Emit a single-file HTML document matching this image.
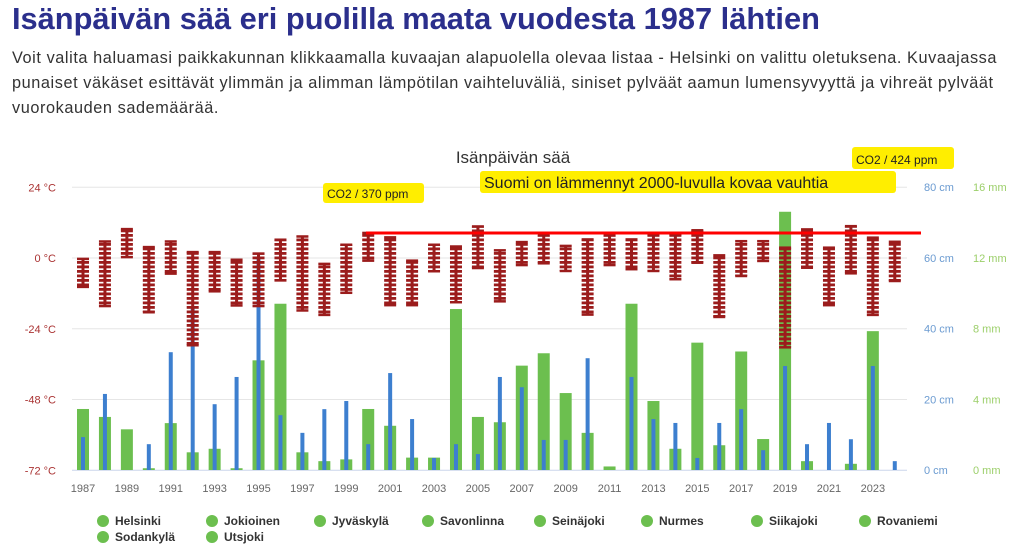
<!DOCTYPE html>
<html><head><meta charset="utf-8">
<style>
body{margin:0;width:1024px;height:554px;overflow:hidden;background:#fff;font-family:"Liberation Sans",sans-serif;}
#title{position:absolute;left:12px;top:1px;margin:0;font-size:30.8px;font-weight:bold;color:#2b2f8c;white-space:nowrap;}
#intro{position:absolute;left:12px;top:46px;width:1010px;margin:0;font-size:16.3px;line-height:25px;color:#333;white-space:nowrap;letter-spacing:0.58px;}
svg{position:absolute;left:0;top:0;}
</style></head><body>
<h1 id="title">Isänpäivän sää eri puolilla maata vuodesta 1987 lähtien</h1>
<p id="intro">Voit valita haluamasi paikkakunnan klikkaamalla kuvaajan alapuolella olevaa listaa - Helsinki on valittu oletuksena. Kuvaajassa<br>punaiset väkäset esittävät ylimmän ja alimman lämpötilan vaihteluväliä, siniset pylväät aamun lumensyvyyttä ja vihreät pylväät<br>vuorokauden sademäärää.</p>
<svg id="chart" width="1024" height="554">
<defs><pattern id="stripes" width="12" height="4.5" patternUnits="userSpaceOnUse"><rect width="12" height="2.8" fill="#9b1c1c"/></pattern></defs>
</svg>
<script>
const years=[];for(let y=1987;y<=2024;y++)years.push(y);
const rainMm=[3.45,3.0,2.3,0.1,2.65,1.0,1.2,0.1,6.2,9.4,1.0,0.5,0.6,3.45,2.5,0.7,0.7,9.1,3.0,2.7,5.9,6.6,4.35,2.1,0.2,9.4,3.9,1.2,7.2,1.4,6.7,1.75,14.6,0.5,0,0.35,7.85,0];
const snowCm=[9.3,21.5,0,7.3,33.3,46,18.6,26.3,59.6,15.5,10.5,17.2,19.5,7.3,27.4,14.4,3.4,7.3,4.5,26.3,23.4,8.5,8.5,31.6,0,26.3,14.4,13.3,3.4,13.3,17.2,5.6,29.4,7.3,13.3,8.7,29.4,2.5];
const tMax=[-0.3,5.6,9.8,3.7,5.6,2,2,-0.6,1.5,6.2,7.3,-2,4.5,8.5,7,-0.9,4.5,3.9,10.7,2.6,5.4,7.7,4.1,6.3,7.7,6.3,8,8,9.4,0.9,5.7,5.7,3.5,9.7,3.5,10.8,6.9,5.5];
const tMin=[-9.8,-16.3,0.3,-18.4,-5.3,-29.6,-11.3,-16.1,-16.3,-7.6,-17.8,-19.3,-11.8,-0.9,-16,-16,-4.5,-15,-3.4,-14.7,-2.4,-1.8,-4.4,-19.2,-2.4,-3.8,-4.4,-7.2,-1.6,-20,-6.1,-1,-30.3,-3.3,-16,-5.2,-19.3,-7.8];
const tempTicks=[24,0,-24,-48,-72];
const cmTicks=[80,60,40,20,0];
const mmTicks=[16,12,8,4,0];
const xLabels=[1987,1989,1991,1993,1995,1997,1999,2001,2003,2005,2007,2009,2011,2013,2015,2017,2019,2021,2023];
const stations=["Helsinki","Jokioinen","Jyväskylä","Savonlinna","Seinäjoki","Nurmes","Siikajoki","Rovaniemi","Sodankylä","Utsjoki"];
const refTemp=8.5;

const svg=document.getElementById('chart');const NS='http://www.w3.org/2000/svg';
const X0=72,X1=907,TOP=187,BOT=470;
const xs=y=>83+(y-1987)*21.94;
const yT=t=>258-(t)*(283/96);
const yCm=c=>BOT-c*(283/80);
const yMm=m=>BOT-m*(283/16);
function el(tag,attrs,txt){const e=document.createElementNS(NS,tag);for(const k in attrs)e.setAttribute(k,attrs[k]);if(txt!=null)e.textContent=txt;svg.appendChild(e);return e;}
tempTicks.forEach((t,i)=>{const y=yT(t);
 const g=el('line',{x1:X0,x2:X1,y1:y,y2:y,stroke:i==4?'#ccd6eb':'#e6e6e6','stroke-width':1});
 
 const a=el('text',{x:56,y:y+4,'text-anchor':'end','font-size':11,fill:'#a33'},t+' °C');
 });
cmTicks.forEach(c=>{const b=el('text',{x:924,y:yCm(c)+4,'font-size':11,fill:'#6b9bd1'},c+' cm');
 });
mmTicks.forEach(m=>{const b=el('text',{x:973,y:yMm(m)+4,'font-size':11,fill:'#9ccf6a'},m+' mm');
 });
xLabels.forEach(y=>{const t=el('text',{x:xs(y),y:492,'text-anchor':'middle','font-size':11,fill:'#666'},String(y));
 });
years.forEach((y,i)=>{const x=xs(y);
 const g=el('rect',{x:x-6,y:yMm(rainMm[i]),width:12,height:BOT-yMm(rainMm[i]),fill:'#6cbf4f'});
 
 const b=el('rect',{x:x-2,y:yCm(snowCm[i]),width:4,height:BOT-yCm(snowCm[i]),fill:'#3d7fcf'});
 
 const top=yT(tMax[i]),bot=yT(tMin[i]);
 const l=el('line',{x1:x,x2:x,y1:top,y2:bot,stroke:'#9b1c1c','stroke-width':3});
 
 const r=el('rect',{x:x-6,y:top,width:12,height:bot-top,fill:'url(#stripes)'});
 
 [top,bot].forEach(yy=>{const c=el('line',{x1:x-6,x2:x+6,y1:yy,y2:yy,stroke:'#9b1c1c','stroke-width':2.5});
  });
});
const rl=el('line',{x1:366,x2:921,y1:yT(refTemp),y2:yT(refTemp),stroke:'#f00','stroke-width':3});

const ct=el('text',{x:513,y:163,'text-anchor':'middle','font-size':17,fill:'#333'},'Isänpäivän sää');

function hl(x,y,w,h,txt,fs,name){const r=el('rect',{x:x,y:y,width:w,height:h,fill:'#ffee00',rx:3});
 
 const t=el('text',{x:x+4,y:y+h-5,'font-size':fs,fill:'#222'},txt);
 }
hl(323,183,101,20,'CO2 / 370 ppm',12,'co2-370-annotation');
hl(852,147,102,22,'CO2 / 424 ppm',12,'co2-424-annotation');
hl(480,171,416,22,'Suomi on lämmennyt 2000-luvulla kovaa vauhtia',16,'warming-annotation');
const lx=[103,212,320,428,540,647,757,865,103,212];
stations.forEach((s,i)=>{const row=i<8?0:1;const y=row?537:521;
 const c=el('circle',{cx:lx[i],cy:y,r:6,fill:'#6cbf4f'});
 
 const t=el('text',{x:lx[i]+12,y:y+4,'font-size':12,fill:'#333','font-weight':'bold'},s);
 });
</script>
</body></html>
